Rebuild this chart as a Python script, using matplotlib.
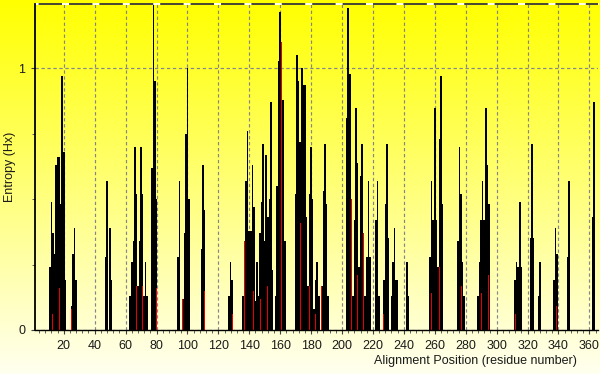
import numpy as np
import matplotlib
matplotlib.use('Agg')
import matplotlib.pyplot as plt
from matplotlib.ticker import MultipleLocator, FixedLocator

plt.rcParams['font.family'] = ['Liberation Sans', 'DejaVu Sans']
plt.rcParams['lines.scale_dashes'] = False

# ---- data ----
positions = [11, 12, 13, 14, 15, 16, 17, 18, 19, 20, 21,
             25, 26, 27, 28,
             47, 48, 50, 51,
             63, 64, 65, 66, 67, 68, 69, 70, 71, 72, 73, 74,
             77, 78, 79, 80,
             94, 95, 97, 98, 99, 100, 101,
             109, 110, 111,
             127, 128, 129,
             136, 137, 138, 139, 140, 141, 142, 143, 144, 145, 146, 147, 148, 149, 150,
             151, 152, 153, 154, 155,
             157, 158, 159, 160, 161, 162, 163,
             170, 171, 172, 173, 174, 175, 176, 177, 178, 179, 180, 181, 182, 183, 184, 185,
             187, 188, 189, 190, 191,
             203, 204, 205, 206, 207, 208, 209, 210, 211, 212, 213, 214, 215, 216, 217, 218,
             222, 223, 224,
             227, 228, 229, 230,
             232, 233, 234, 235, 236,
             242, 243,
             257, 258, 259, 260, 261, 262, 263, 264, 265,
             275, 276, 277, 278, 279,
             288, 289, 290, 291, 292, 293, 294, 295,
             312, 313, 314, 315, 316,
             322, 323, 324,
             327, 328,
             337, 338, 339,
             346, 347,
             362, 363]
entropy = [0.24, 0.49, 0.37, 0.29, 0.63, 0.66, 0.66, 0.48, 0.97, 0.68, 0.19,
           0.09, 0.29, 0.39, 0.19,
           0.28, 0.57, 0.39, 0.19,
           0.13, 0.26, 0.34, 0.70, 0.52, 0.17, 0.34, 0.70, 0.52, 0.13, 0.26, 0.13,
           0.62, 1.30, 0.95, 0.50,
           0.28, 0.57, 0.12, 0.37, 0.75, 1.00, 0.50,
           0.31, 0.63, 0.46,
           0.13, 0.26, 0.19,
           0.13, 0.34, 0.57, 0.76, 0.38, 0.38, 0.63, 0.47, 0.11, 0.26, 0.13, 0.37, 0.49, 0.71, 0.34,
           0.67, 0.43, 0.50, 0.87, 0.23,
           0.13, 0.55, 1.03, 1.215, 1.10, 0.88, 0.34,
           0.52, 1.05, 0.95, 0.72, 1.00, 0.935, 0.935, 0.43, 0.17, 0.52, 0.70, 0.50, 0.08, 0.19, 0.26, 0.13,
           0.17, 0.53, 0.71, 0.48, 0.13,
           0.81, 1.23, 0.98, 0.50, 0.13, 0.42, 0.85, 0.64, 0.24, 0.59, 0.71, 0.37, 0.13, 0.28, 0.57, 0.28,
           0.42, 0.57, 0.13,
           0.19, 0.48, 0.71, 0.35,
           0.13, 0.26, 0.39, 0.19, 0.19,
           0.26, 0.13,
           0.28, 0.57, 0.42, 0.85, 0.42, 0.24, 0.73, 0.97, 0.48,
           0.34, 0.70, 0.52, 0.26, 0.13,
           0.13, 0.26, 0.42, 0.57, 0.42, 0.85, 0.63, 0.48,
           0.19, 0.26, 0.24, 0.49, 0.24,
           0.35, 0.71, 0.35,
           0.13, 0.26,
           0.19, 0.39, 0.29,
           0.28, 0.57,
           0.43, 0.87]
red_positions = [13, 17, 25, 67, 71, 80, 97, 111, 129, 137, 143, 147, 152, 161,
                 173, 179, 183, 187, 206, 210, 214, 222, 227, 258, 263, 277,
                 290, 295, 312, 339]
red_values = [0.06, 0.16, 0.08, 0.17, 0.17, 0.16, 0.12, 0.15, 0.06, 0.34, 0.15, 0.12, 0.17, 1.10,
              0.41, 0.17, 0.06, 0.17, 0.50, 0.21, 0.37, 0.14, 0.06, 0.14, 0.24, 0.17,
              0.14, 0.21, 0.06, 0.09]
x_ticks = list(range(20, 361, 20))
y_ticks = [0, 1]
x_label = 'Alignment Position (residue number)'
y_label = 'Entropy (Hx)'
x_range = (1.4, 365.6)
y_range = (0, 1.246)

# ---- figure ----
fig = plt.figure(figsize=(6.0, 3.74), dpi=100)

bg = fig.add_axes([0, 0, 1, 1], zorder=-10)
g = np.linspace(0.0, 1.0, 374)
img = np.ones((374, 1, 3))
img[:, 0, 2] = g * 0.94
bg.imshow(img, aspect='auto', extent=[0, 1, 0, 1], origin='upper')
bg.axis('off')

ax = fig.add_axes([35 / 600, 44 / 374, 563 / 600, 326 / 374])
ax.patch.set_alpha(0)

ax.bar(positions, entropy, width=1.0, color='black', linewidth=0, zorder=3)
ax.bar(red_positions, red_values, width=0.6, color='#e80000', linewidth=0, zorder=4)

ax.set_xlim(*x_range)
ax.set_ylim(*y_range)

ax.xaxis.set_major_locator(FixedLocator(x_ticks))
ax.xaxis.set_minor_locator(MultipleLocator(4))
ax.yaxis.set_major_locator(FixedLocator(y_ticks))
ax.yaxis.set_minor_locator(MultipleLocator(0.25))

ax.set_axisbelow(True)
ax.grid(True, which='major', color='#85858c', linestyle=(0, (2.4, 1.9)), linewidth=0.85)

for s in ['right', 'top']:
    ax.spines[s].set_visible(False)
ax.spines['left'].set_linewidth(1.3)
ax.spines['bottom'].set_linewidth(1.0)
ax.spines['left'].set_zorder(6)
ax.spines['bottom'].set_zorder(6)

ytop = y_range[1]
ax.axhline(ytop, color='white', lw=1.3, clip_on=False, zorder=5)
ax.axhline(ytop, color='#383820', lw=1.3, linestyle=(19.3, (16.85, 5.04)),
           clip_on=False, zorder=6)

ax.tick_params(axis='both', which='major', length=3, width=0.8, color='#404040',
               labelsize=9, labelcolor='#1a1a1a')
ax.tick_params(axis='both', which='minor', length=2.5, width=0.7, color='#606060')
ax.tick_params(axis='x', which='major', pad=4.5)
ax.tick_params(axis='y', which='major', pad=4)

ax.set_ylabel(y_label, fontsize=9, color='#1a1a1a')
ax.yaxis.set_label_coords(-0.034, 0.5)
ax.set_xlabel(x_label, fontsize=9, color='#1a1a1a', loc='right')
ax.xaxis.set_label_coords(0.963, -0.078)

fig.savefig('out.png', dpi=100)
